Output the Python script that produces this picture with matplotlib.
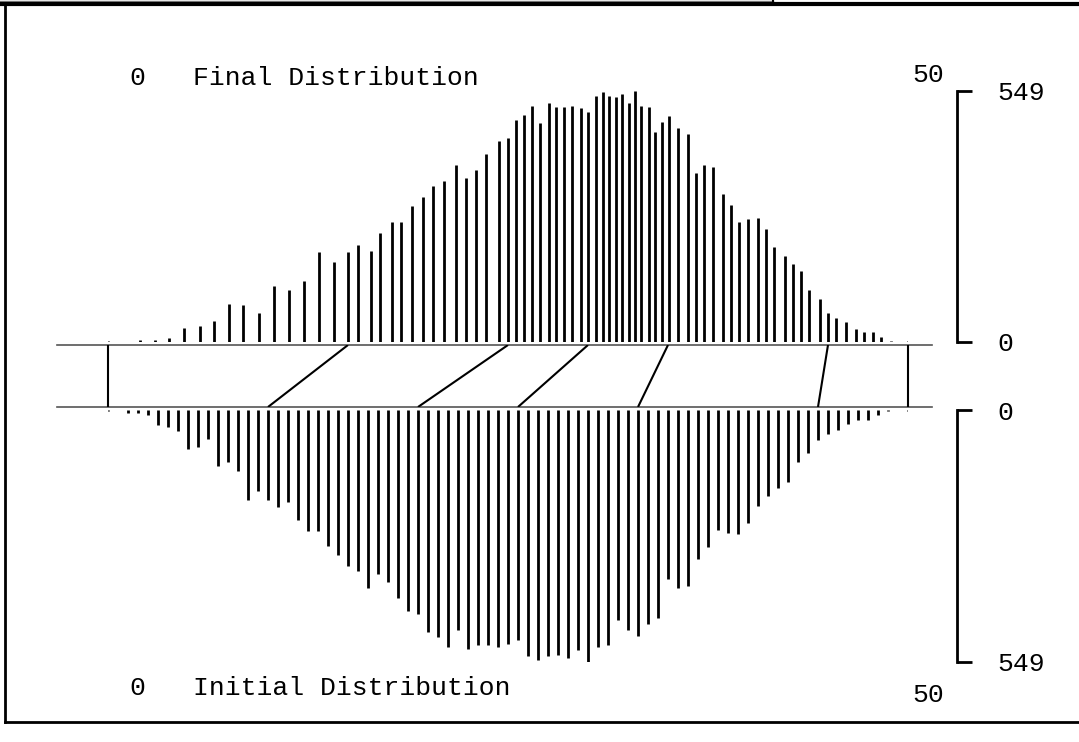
import matplotlib
matplotlib.use("Agg")
import matplotlib.pyplot as plt
from matplotlib.lines import Line2D

plt.rcParams['font.family'] = ['Liberation Mono', 'DejaVu Sans Mono']

# Counts per value (same counts in both distributions)
counts = [2, 5, 5, 9, 31, 35, 45, 84, 80, 63,
          122, 113, 133, 196, 175, 196, 211, 199, 239, 263,
          263, 296, 317, 340, 352, 387, 358, 376, 411, 439,
          446, 485, 495, 516, 479, 521, 513, 513, 516, 510,
          502, 537, 545, 537, 534, 542, 523, 549, 516, 513,
          458, 481, 493, 467, 454, 369, 387, 383, 324, 299,
          262, 268, 271, 247, 208, 187, 170, 156, 113, 94,
          64, 52, 43, 29, 21, 21, 10, 2, 2]

# Values in the initial distribution
initial_x = [0.0, 1.25, 1.875, 2.5, 3.125, 3.75, 4.375, 5.0, 5.625, 6.25,
             6.875, 7.5, 8.125, 8.75, 9.375, 10.0, 10.625, 11.25, 11.875, 12.5,
             13.125, 13.75, 14.375, 15.0, 15.625, 16.25, 16.875, 17.5, 18.125, 18.75,
             19.375, 20.0, 20.625, 21.25, 21.875, 22.5, 23.125, 23.75, 24.375, 25.0,
             25.625, 26.25, 26.875, 27.5, 28.125, 28.75, 29.375, 30.0, 30.625, 31.25,
             31.875, 32.5, 33.125, 33.75, 34.375, 35.0, 35.625, 36.25, 36.875, 37.5,
             38.125, 38.75, 39.375, 40.0, 40.625, 41.25, 41.875, 42.5, 43.125, 43.75,
             44.375, 45.0, 45.625, 46.25, 46.875, 47.5, 48.125, 48.75, 50.0]

# Same values after the transformation (final distribution)
final_x = [0.0, 2.0, 2.94, 3.79, 4.73, 5.73, 6.63, 7.54, 8.42, 9.42,
           10.39, 11.33, 12.23, 13.21, 14.13, 15.02, 15.63, 16.42, 17.0, 17.75,
           18.33, 19.0, 19.71, 20.33, 21.0, 21.75, 22.36, 23.02, 23.63, 24.42,
           25.02, 25.52, 26.02, 26.52, 27.02, 27.54, 28.02, 28.52, 29.02, 29.54,
           30.02, 30.52, 30.92, 31.33, 31.73, 32.14, 32.54, 32.94, 33.33, 33.81,
           34.21, 34.63, 35.04, 35.64, 36.23, 36.75, 37.23, 37.81, 38.42, 38.92,
           39.42, 40.02, 40.63, 41.13, 41.63, 42.31, 42.81, 43.33, 43.83, 44.52,
           45.02, 45.52, 46.13, 46.73, 47.23, 47.81, 48.33, 48.92, 50.0]

# Mapping lines between the two distributions
q_initial = [0, 10, 19.375, 25.625, 33.125, 44.375, 50]
q_final = [0, 15, 25, 30, 35, 45, 50]

x_min, x_max = 0, 50
count_max = 549

W, H = 1079, 742
fig = plt.figure(figsize=(W / 100, H / 100), dpi=100)


def box(x0, y0, x1, y1):
    # pixel box -> figure fraction rect
    return [x0 / W, 1 - y1 / H, (x1 - x0) / W, (y1 - y0) / H]


ax_top = fig.add_axes(box(108, 90.6, 908, 342))
ax_mid = fig.add_axes(box(57, 345, 932, 407))
ax_bot = fig.add_axes(box(108, 410.5, 908, 661.6))

for ax in (ax_top, ax_mid, ax_bot):
    ax.set_facecolor('none')
    ax.set_xticks([])
    for s in ax.spines.values():
        s.set_visible(False)

px_per_unit = 800 / (x_max - x_min)

# Final distribution (upward)
ax_top.set_xlim(x_min, x_max)
ax_top.set_ylim(0, count_max)
ax_top.vlines(final_x, 0, counts, color='black', lw=2)

# Initial distribution (downward)
ax_bot.set_xlim(x_min, x_max)
ax_bot.set_ylim(count_max, 0)
ax_bot.vlines(initial_x, 0, counts, color='black', lw=2)

# Middle strip with baselines and mapping lines
ax_mid.set_xlim(x_min - 51 / px_per_unit, x_max + 24 / px_per_unit)
ax_mid.set_ylim(0, 1)
ax_mid.set_yticks([])
ax_mid.axhline(0, color='#555555', lw=1.2, clip_on=False)
ax_mid.axhline(1, color='#555555', lw=1.2, clip_on=False)
for a, b in zip(q_initial, q_final):
    ax_mid.plot([a, b], [0, 1], color='black', lw=1.5, solid_capstyle='butt')

# Count brackets on the right
bracket_x = x_max + 49 / px_per_unit
for ax in (ax_top, ax_bot):
    sp = ax.spines['right']
    sp.set_visible(True)
    sp.set_position(('data', bracket_x))
    sp.set_bounds(0, count_max)
    sp.set_linewidth(2)
    ax.set_yticks([0, count_max])
    ax.yaxis.tick_right()
    ax.tick_params(axis='y', direction='out', length=10.8, width=2,
                   pad=18, labelsize=19)

# Range labels and titles
lx0 = x_min + 29 / px_per_unit
lx1 = x_max + 20 / px_per_unit
tx = x_min + 85 / px_per_unit
ax_top.text(lx0, 576, '0', ha='center', va='center', fontsize=19)
ax_top.text(tx, 576, 'Final Distribution', ha='left', va='center', fontsize=19)
ax_top.text(lx1, 583, '50', ha='center', va='center', fontsize=19)
ax_bot.text(lx0, 607, '0', ha='center', va='center', fontsize=19)
ax_bot.text(tx, 607, 'Initial Distribution', ha='left', va='center', fontsize=19)
ax_bot.text(lx1, 622, '50', ha='center', va='center', fontsize=19)

# Outer frame
def fline(xs, ys, **kw):
    fig.add_artist(Line2D([x / W for x in xs], [1 - y / H for y in ys],
                          transform=fig.transFigure, color='black', **kw))

fline([0, W], [4, 4], lw=3)
fline([5, 5], [4, 722], lw=2)
fline([5, W], [722, 722], lw=2)
fline([773, 773], [0, 4], lw=1.5)
fline([0, 773], [0.5, 0.5], lw=1, alpha=0.5)

fig.savefig('out.png', dpi=100)
